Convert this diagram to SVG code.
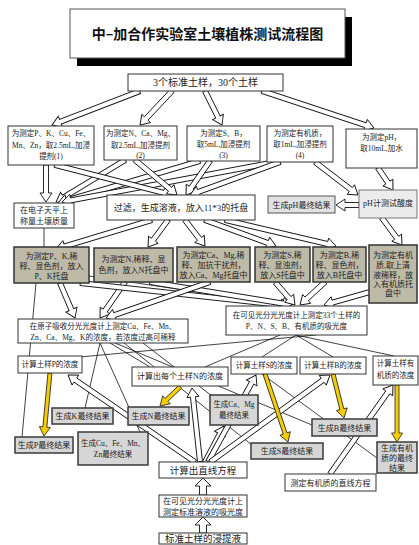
<svg xmlns="http://www.w3.org/2000/svg" width="419" height="545" viewBox="0 0 419 545">
<style>
.box{fill:#fff;stroke:#333;stroke-width:1}
.g3{fill:#bebaa8;stroke:#333;stroke-width:1.5}
.res{fill:#d6d6d6;stroke:#3a3a3a;stroke-width:1.5}
.lt{fill:#ececec;stroke:#777;stroke-width:1}
.t{font-family:"Liberation Serif","Noto Sans CJK SC",serif;font-size:8px;text-anchor:middle;fill:#222}
.s75{font-size:7.5px}
.ln{stroke:#111;stroke-width:0.8;fill:none}
.ha{fill:#fff;stroke:#111;stroke-width:0.9}
.ya{fill:#f5cd00;stroke:#222;stroke-width:0.8}
</style>
<rect width="419" height="545" fill="#fff"/>

<g id="title">
<rect x="77" y="17" width="275" height="49" fill="#000"/>
<rect x="70" y="9" width="275" height="49" fill="#fff" stroke="#555" stroke-width="1"/>
<text x="207.5" y="39" style="font-family:'Noto Sans CJK SC',sans-serif;font-size:14px;font-weight:bold;text-anchor:middle;fill:#111">中–加合作实验室土壤植株测试流程图</text>
</g>

<g id="connectors">
<!-- thin lines -->
<line class="ln" x1="44" y1="228" x2="44" y2="247"/>
<line class="ln" x1="36" y1="283" x2="22" y2="437"/>
<line class="ln" x1="100" y1="343" x2="85" y2="408"/>
<line class="ln" x1="100" y1="343" x2="140" y2="432"/>
<line class="ln" x1="143" y1="343" x2="212" y2="396"/>
<line class="ln" x1="115" y1="343" x2="312" y2="425"/>
<line class="ln" x1="124" y1="343" x2="252" y2="445"/>
<line class="ln" x1="316" y1="335" x2="80" y2="357"/>
<line class="ln" x1="296" y1="335" x2="262" y2="357"/>
<line class="ln" x1="296" y1="335" x2="333" y2="357"/>
<line class="ln" x1="296" y1="335" x2="394" y2="356"/>
<line class="ln" x1="280" y1="335" x2="205" y2="367"/>
<line class="ln" x1="262" y1="374" x2="377" y2="458"/>
<line class="ln" x1="89" y1="276" x2="287" y2="305"/>
<line class="ln" x1="110" y1="343" x2="150" y2="367"/>
<!-- hollow arrows -->
<g class="ha">
<polygon transform="translate(52,125) rotate(158.9)" points="-94,-2.5 -9,-2.5 -9,-6 0,0 -9,6 -9,2.5 -94,2.5"/>
<polygon transform="translate(140,125) rotate(133.3)" points="-47,-2.5 -9,-2.5 -9,-6 0,0 -9,6 -9,2.5 -47,2.5"/>
<polygon transform="translate(222,125) rotate(63.4)" points="-38,-2.5 -9,-2.5 -9,-6 0,0 -9,6 -9,2.5 -38,2.5"/>
<polygon transform="translate(374,128) rotate(18.3)" points="-118,-2.5 -9,-2.5 -9,-6 0,0 -9,6 -9,2.5 -118,2.5"/>
<polygon transform="translate(46,202) rotate(90)" points="-37,-2.5 -9,-2.5 -9,-6 0,0 -9,6 -9,2.5 -37,2.5"/>
<polygon transform="translate(56,202) rotate(148.7)" points="-81,-2.5 -9,-2.5 -9,-6 0,0 -9,6 -9,2.5 -81,2.5"/>
<polygon transform="translate(58,203) rotate(163.5)" points="-148,-2.5 -9,-2.5 -9,-6 0,0 -9,6 -9,2.5 -148,2.5"/>
<polygon transform="translate(62,202) rotate(169.4)" points="-217,-2.5 -9,-2.5 -9,-6 0,0 -9,6 -9,2.5 -217,2.5"/>
<polygon transform="translate(172,195) rotate(14.4)" points="-121,-2.5 -9,-2.5 -9,-6 0,0 -9,6 -9,2.5 -121,2.5"/>
<polygon transform="translate(177,195) rotate(39.8)" points="-55,-2.5 -9,-2.5 -9,-6 0,0 -9,6 -9,2.5 -55,2.5"/>
<polygon transform="translate(186,195) rotate(125.2)" points="-42,-2.5 -9,-2.5 -9,-6 0,0 -9,6 -9,2.5 -42,2.5"/>
<polygon transform="translate(190,195) rotate(159.9)" points="-96,-2.5 -9,-2.5 -9,-6 0,0 -9,6 -9,2.5 -96,2.5"/>
<polygon transform="translate(358,195) rotate(37.5)" points="-54,-2.5 -9,-2.5 -9,-6 0,0 -9,6 -9,2.5 -54,2.5"/>
<polygon transform="translate(393,190) rotate(55.7)" points="-27,-2.5 -9,-2.5 -9,-6 0,0 -9,6 -9,2.5 -27,2.5"/>
<polygon transform="translate(336,205) rotate(180)" points="-23,-2.5 -9,-2.5 -9,-6 0,0 -9,6 -9,2.5 -23,2.5"/>
<polygon transform="translate(402,245) rotate(53.5)" points="-34,-2.5 -9,-2.5 -9,-6 0,0 -9,6 -9,2.5 -34,2.5"/>
<polygon transform="translate(56,249) rotate(163.2)" points="-100,-2.5 -9,-2.5 -9,-6 0,0 -9,6 -9,2.5 -100,2.5"/>
<polygon transform="translate(148,247) rotate(126.5)" points="-34,-2.5 -9,-2.5 -9,-6 0,0 -9,6 -9,2.5 -34,2.5"/>
<polygon transform="translate(205,246) rotate(52.4)" points="-33,-2.5 -9,-2.5 -9,-6 0,0 -9,6 -9,2.5 -33,2.5"/>
<polygon transform="translate(276,246) rotate(20.1)" points="-76,-2.5 -9,-2.5 -9,-6 0,0 -9,6 -9,2.5 -76,2.5"/>
<polygon transform="translate(336,246) rotate(13.2)" points="-114,-2.5 -9,-2.5 -9,-6 0,0 -9,6 -9,2.5 -114,2.5"/>
<polygon transform="translate(75,318) rotate(66.8)" points="-38,-2.5 -9,-2.5 -9,-6 0,0 -9,6 -9,2.5 -38,2.5"/>
<polygon transform="translate(100,318) rotate(124.8)" points="-44,-2.5 -9,-2.5 -9,-6 0,0 -9,6 -9,2.5 -44,2.5"/>
<polygon transform="translate(290,306) rotate(6.25)" points="-211,-2.5 -9,-2.5 -9,-6 0,0 -9,6 -9,2.5 -211,2.5"/>
<polygon transform="translate(292,305) rotate(9.2)" points="-144,-2.5 -9,-2.5 -9,-6 0,0 -9,6 -9,2.5 -144,2.5"/>
<polygon transform="translate(106,318) rotate(160.9)" points="-110,-2.5 -9,-2.5 -9,-6 0,0 -9,6 -9,2.5 -110,2.5"/>
<polygon transform="translate(295,305) rotate(49)" points="-30,-2.5 -9,-2.5 -9,-6 0,0 -9,6 -9,2.5 -30,2.5"/>
<polygon transform="translate(300,305) rotate(137.4)" points="-34,-2.5 -9,-2.5 -9,-6 0,0 -9,6 -9,2.5 -34,2.5"/>
<polygon transform="translate(324,305) rotate(164.2)" points="-48,-2.5 -9,-2.5 -9,-6 0,0 -9,6 -9,2.5 -48,2.5"/>
<polygon transform="translate(68,375) rotate(-145.6)" points="-154,-2.5 -9,-2.5 -9,-6 0,0 -9,6 -9,2.5 -154,2.5"/>
<polygon transform="translate(192,388) rotate(-96.2)" points="-74,-2.5 -9,-2.5 -9,-6 0,0 -9,6 -9,2.5 -74,2.5"/>
<polygon transform="translate(224,426) rotate(-62.2)" points="-41,-2.5 -9,-2.5 -9,-6 0,0 -9,6 -9,2.5 -41,2.5"/>
<polygon transform="translate(256,375) rotate(-61.1)" points="-99,-2.5 -9,-2.5 -9,-6 0,0 -9,6 -9,2.5 -99,2.5"/>
<polygon transform="translate(330,375) rotate(-36)" points="-148,-2.5 -9,-2.5 -9,-6 0,0 -9,6 -9,2.5 -148,2.5"/>
<polygon transform="translate(393,385) rotate(-54.7)" points="-109,-2.5 -9,-2.5 -9,-6 0,0 -9,6 -9,2.5 -109,2.5"/>
</g>
<!-- yellow arrows -->
<g class="ya">
<polygon transform="translate(44,436) rotate(95.4)" points="-63,-2 -9,-2 -9,-5.5 0,0 -9,5.5 -9,2 -63,2"/>
<polygon transform="translate(160,406) rotate(136.5)" points="-28,-2 -9,-2 -9,-5.5 0,0 -9,5.5 -9,2 -28,2"/>
<polygon transform="translate(288,442) rotate(71.3)" points="-72,-2 -9,-2 -9,-5.5 0,0 -9,5.5 -9,2 -72,2"/>
<polygon transform="translate(344,418) rotate(76)" points="-45,-2 -9,-2 -9,-5.5 0,0 -9,5.5 -9,2 -45,2"/>
<polygon transform="translate(397,442) rotate(90)" points="-57,-2 -9,-2 -9,-5.5 0,0 -9,5.5 -9,2 -57,2"/>
</g>
<!-- block up arrows -->
<polygon class="ha" points="203,517 211,525 206.5,525 206.5,533 199.5,533 199.5,525 195,525"/>
<polygon class="ha" points="203,478 211,486 206.5,486 206.5,495 199.5,495 199.5,486 195,486"/>
</g>

<g id="n_top"><rect class="box" x="128" y="74" width="155" height="17"/><text class="t" x="205.5" y="86" style="font-size:10px">3个标准土样，30个土样</text></g>

<g id="n_b1"><rect class="box" x="8" y="126" width="86" height="39"/><text class="t s75" x="51" y="136">为测定P、K、Cu、Fe、</text><text class="t s75" x="51" y="148">Mn、Zn，取2.5mL,加浸</text><text class="t s75" x="51" y="159">提剂(1)</text></g>
<g id="n_b2"><rect class="box" x="104" y="126" width="73" height="34"/><text class="t s75" x="140.5" y="136">为测定N、Ca、Mg、</text><text class="t s75" x="140.5" y="148">取2.5mL,加浸提剂</text><text class="t s75" x="140.5" y="158">(2)</text></g>
<g id="n_b3"><rect class="box" x="187" y="126" width="73" height="35"/><text class="t s75" x="223.5" y="136">为测定S、B，</text><text class="t s75" x="223.5" y="147">取5mL,加浸提剂</text><text class="t s75" x="223.5" y="158">(3)</text></g>
<g id="n_b4"><rect class="box" x="267" y="126" width="66" height="36"/><text class="t s75" x="300" y="136">为测定有机质，</text><text class="t s75" x="300" y="147">取1mL,加浸提剂</text><text class="t s75" x="300" y="158">(4)</text></g>
<g id="n_b5"><rect class="box" x="346" y="129" width="71" height="39"/><text class="t s75" x="381.5" y="140">为测定pH，</text><text class="t s75" x="381.5" y="151">取10mL,加水</text></g>

<g id="n_weigh"><rect class="box" x="14" y="203" width="60" height="25"/><text class="t" x="44" y="213">在电子天平上</text><text class="t" x="44" y="224">称量土壤质量</text></g>
<g id="n_filter"><rect class="box" x="107" y="195" width="148" height="25"/><text class="t" x="181" y="211" style="font-size:9px">过滤，生成溶液，放入11*3的托盘</text></g>
<g id="n_phres"><rect class="res" x="268" y="196" width="67" height="17" style="fill:#e2e2e2;stroke:#555;stroke-width:1"/><text class="t" x="301.5" y="208">生成pH最终结果</text></g>
<g id="n_phtest"><rect class="lt" x="359" y="190" width="58" height="28"/><text class="t" x="388" y="206">pH计测试酸度</text></g>

<g id="n_gpk"><rect class="g3" x="14" y="247" width="75" height="36"/><text class="t" x="51.5" y="259">为测定P、K,稀</text><text class="t" x="51.5" y="269">释、显色剂，放入</text><text class="t" x="51.5" y="279">P、K托盘</text></g>
<g id="n_gn"><rect class="g3" x="94" y="248" width="79" height="34"/><text class="t" x="133.5" y="262">为测定N,稀释、显</text><text class="t" x="133.5" y="273">色剂，放入N托盘中</text></g>
<g id="n_gca"><rect class="g3" x="177" y="247" width="73" height="35"/><text class="t" x="213.5" y="258">为测定Ca、Mg,稀</text><text class="t" x="213.5" y="268">释、加抗干扰剂，</text><text class="t" x="213.5" y="278">放入Ca、Mg托盘中</text></g>
<g id="n_gs"><rect class="g3" x="255" y="247" width="55" height="35"/><text class="t" x="282.5" y="258">为测定S,稀</text><text class="t" x="282.5" y="268">释、显浊剂，</text><text class="t" x="282.5" y="278">放入S托盘中</text></g>
<g id="n_gb"><rect class="g3" x="313" y="247" width="53" height="35"/><text class="t" x="339.5" y="258">为测定B,稀</text><text class="t" x="339.5" y="268">释、显色剂，</text><text class="t" x="339.5" y="278">放入B托盘中</text></g>
<g id="n_gom"><rect class="g3" x="369" y="245" width="48" height="58"/><text class="t" x="393" y="258">为测定有机</text><text class="t" x="393" y="268">质,取上清</text><text class="t" x="393" y="278">液稀释，放</text><text class="t" x="393" y="287">入有机质托</text><text class="t" x="393" y="296">盘中</text></g>

<g id="n_aa"><rect class="box" x="18" y="319" width="170" height="24"/><text class="t s75" x="103" y="329">在原子吸收分光光度计上测定Cu、Fe、Mn、</text><text class="t s75" x="103" y="340">Zn、Ca、Mg、K的浓度，若浓度过高可稀释</text></g>
<g id="n_vis"><rect class="box" x="226" y="306" width="141" height="29"/><text class="t s75" x="296.5" y="318">在可见光分光光度计上测定33个土样的</text><text class="t s75" x="296.5" y="329">P、N、S、B、有机质的吸光度</text></g>

<g id="n_cp"><rect class="box" x="18" y="356" width="64" height="17"/><text class="t s75" x="50" y="367">计算土样P的浓度</text></g>
<g id="n_cn"><rect class="box" x="132" y="367" width="96" height="19"/><text class="t" x="180" y="379">计算出每个土样N的浓度</text></g>
<g id="n_cs"><rect class="box" x="231" y="357" width="66" height="17"/><text class="t s75" x="264" y="368">计算土样S的浓度</text></g>
<g id="n_cb"><rect class="box" x="300" y="357" width="66" height="17"/><text class="t s75" x="333" y="368">计算土样B的浓度</text></g>
<g id="n_com"><rect class="box" x="373" y="356" width="45" height="29"/><text class="t s75" x="395.5" y="366">计算土样有</text><text class="t s75" x="395.5" y="378">机质的浓度</text></g>

<g id="n_rp"><rect class="res" x="15" y="437" width="58" height="16"/><text class="t" x="44" y="448">生成P最终结果</text></g>
<g id="n_rk"><rect class="res" x="52" y="408" width="61" height="16"/><text class="t" x="82.5" y="419">生成K最终结果</text></g>
<g id="n_rcu"><rect class="res" x="78" y="432" width="70" height="33"/><text class="t s75" x="113" y="446">生成Cu、Fe、Mn、</text><text class="t s75" x="113" y="457">Zn最终结果</text></g>
<g id="n_rn"><rect class="res" x="128" y="407" width="61" height="18"/><text class="t" x="158.5" y="419">生成N最终结果</text></g>
<g id="n_rca"><rect class="res" x="210" y="395" width="48" height="30"/><text class="t s75" x="234" y="407">生成Ca、Mg</text><text class="t s75" x="234" y="418">最终结果</text></g>
<g id="n_rs"><rect class="res" x="251" y="443" width="72" height="16"/><text class="t" x="287" y="454">生成S最终结果</text></g>
<g id="n_rb"><rect class="res" x="312" y="419" width="65" height="17"/><text class="t" x="344.5" y="431">生成B最终结果</text></g>
<g id="n_rom"><rect class="res" x="377" y="442" width="40" height="31"/><text class="t" x="397" y="451">生成有机</text><text class="t" x="397" y="461">质的最终</text><text class="t" x="397" y="471">结果</text></g>
<g id="n_omline"><rect class="box" x="285" y="474" width="91" height="17"/><text class="t" x="330.5" y="486">测定有机质的直线方程</text></g>

<g id="n_calcline"><rect class="box" x="159" y="462" width="88" height="16"/><text class="t" x="203" y="473.5" style="font-size:9.5px">计算出直线方程</text></g>
<g id="n_stdabs"><rect class="box" x="159" y="495" width="88" height="22"/><text class="t" x="203" y="503.5">在可见光分光光度计上</text><text class="t" x="203" y="514.5">测定标准溶液的吸光度</text></g>
<g id="n_stdext"><rect class="box" x="159" y="533" width="88" height="11"/><text class="t" x="203" y="542" style="font-size:9.5px">标准土样的浸提液</text></g>
</svg>
